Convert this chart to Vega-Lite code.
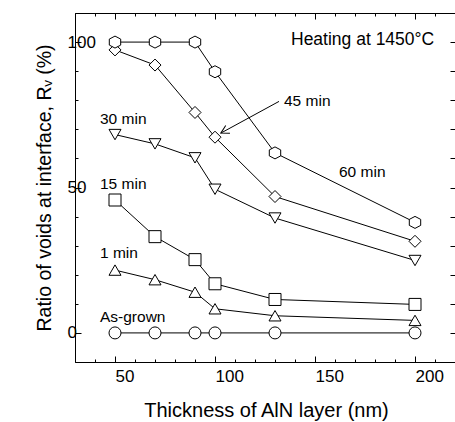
{
  "$schema": "https://vega.github.io/schema/vega-lite/v6.json",
  "width": 382,
  "height": 349,
  "autosize": "none",
  "padding": {"left": 75, "top": 13, "right": 0, "bottom": 60},
  "config": {"font": "Liberation Sans", "view": {"stroke": null}},
  "datasets": {
    "series": [
      {"series": "As-grown", "t": 50, "r": 0}, {"series": "As-grown", "t": 70, "r": 0}, {"series": "As-grown", "t": 90, "r": 0}, {"series": "As-grown", "t": 100, "r": 0}, {"series": "As-grown", "t": 130, "r": 0}, {"series": "As-grown", "t": 200, "r": 0},
      {"series": "1 min", "t": 50, "r": 21.6}, {"series": "1 min", "t": 70, "r": 18.3}, {"series": "1 min", "t": 90, "r": 14.0}, {"series": "1 min", "t": 100, "r": 8.3}, {"series": "1 min", "t": 130, "r": 5.9}, {"series": "1 min", "t": 200, "r": 4.3},
      {"series": "15 min", "t": 50, "r": 45.7}, {"series": "15 min", "t": 70, "r": 33.1}, {"series": "15 min", "t": 90, "r": 25.2}, {"series": "15 min", "t": 100, "r": 16.9}, {"series": "15 min", "t": 130, "r": 11.5}, {"series": "15 min", "t": 200, "r": 9.8},
      {"series": "30 min", "t": 50, "r": 68.2}, {"series": "30 min", "t": 70, "r": 65.0}, {"series": "30 min", "t": 90, "r": 60.2}, {"series": "30 min", "t": 100, "r": 49.4}, {"series": "30 min", "t": 130, "r": 39.5}, {"series": "30 min", "t": 200, "r": 24.9},
      {"series": "45 min", "t": 50, "r": 97.3}, {"series": "45 min", "t": 70, "r": 92.1}, {"series": "45 min", "t": 90, "r": 75.8}, {"series": "45 min", "t": 100, "r": 67.3}, {"series": "45 min", "t": 130, "r": 46.9}, {"series": "45 min", "t": 200, "r": 31.5},
      {"series": "60 min", "t": 50, "r": 100}, {"series": "60 min", "t": 70, "r": 100}, {"series": "60 min", "t": 90, "r": 100}, {"series": "60 min", "t": 100, "r": 89.8}, {"series": "60 min", "t": 130, "r": 61.9}, {"series": "60 min", "t": 200, "r": 38.0}
    ],
    "labels": [
      {"text": "As-grown", "t": 42.5, "r": 5.5},
      {"text": "1 min", "t": 42.5, "r": 27.4},
      {"text": "15 min", "t": 42.5, "r": 51.1},
      {"text": "30 min", "t": 42.5, "r": 73.4},
      {"text": "45 min", "t": 134.5, "r": 79.6},
      {"text": "60 min", "t": 162, "r": 55.4}
    ],
    "heading": [{"text": "Heating at 1450°C", "t": 138, "r": 100.8}],
    "arrow": [{"t": 132, "r": 79.6, "t2": 102.9, "r2": 68.7}]
  },
  "layer": [
    {
      "data": {"name": "series"},
      "mark": {"type": "line", "color": "black", "strokeWidth": 1},
      "encoding": {
        "x": {"field": "t", "type": "quantitative", "scale": {"domain": [30, 221], "nice": false, "zero": false},
          "axis": {"orient": "bottom", "values": [40,60,70,80,90,110,120,130,140,160,170,180,190,210],
            "grid": false, "domainColor": "black", "tickColor": "black", "tickSize": -3, "labels": false, "title": null}},
        "y": {"field": "r", "type": "quantitative", "scale": {"domain": [-10, 110], "nice": false, "zero": false},
          "axis": {"orient": "left", "values": [10,20,30,40,60,70,80,90],
            "grid": false, "domainColor": "black", "tickColor": "black", "tickSize": -3, "labels": false, "title": null}},
        "detail": {"field": "series", "type": "nominal"}
      }
    },
    {
      "data": {"name": "series"},
      "mark": {"type": "point", "filled": true, "fill": "white", "stroke": "black", "strokeWidth": 1, "opacity": 1, "size": 144},
      "encoding": {
        "x": {"field": "t", "type": "quantitative",
          "axis": {"orient": "top", "values": [40,60,70,80,90,110,120,130,140,160,170,180,190,210],
            "grid": false, "domainColor": "black", "tickColor": "black", "tickSize": -3, "labels": false, "title": null}},
        "y": {"field": "r", "type": "quantitative",
          "axis": {"orient": "right", "values": [10,20,30,40,60,70,80,90],
            "grid": false, "domainColor": "black", "tickColor": "black", "tickSize": -7, "labels": false, "title": null}},
        "shape": {"field": "series", "type": "nominal", "legend": null,
          "scale": {"domain": ["As-grown", "1 min", "15 min", "30 min", "45 min", "60 min"],
            "range": ["circle", "triangle-up", "square", "triangle-down", "diamond", "M0,-1L0.95,-0.5L0.95,0.5L0,1L-0.95,0.5L-0.95,-0.5Z"]}}
      }
    },
    {
      "data": {"name": "labels"},
      "mark": {"type": "text", "align": "left", "baseline": "middle", "fontSize": 15.5, "color": "black"},
      "encoding": {
        "x": {"field": "t", "type": "quantitative",
          "axis": {"orient": "bottom", "values": [50, 100, 150, 200],
            "grid": false, "domainColor": "black", "tickColor": "black", "tickSize": -6,
            "labelAlign": "left", "labelBaseline": "top", "labelPadding": 12, "labelFontSize": 17, "labelColor": "black",
            "labelFlush": false, "labelOverlap": false,
            "title": "Thickness of AlN layer (nm)", "titleFontSize": 20, "titleFontWeight": "normal", "titleColor": "black", "titlePadding": 16}},
        "y": {"field": "r", "type": "quantitative",
          "axis": {"orient": "left", "values": [0, 50, 100],
            "grid": false, "domainColor": "black", "tickColor": "black", "tickSize": -6,
            "labelAlign": "left", "labelBaseline": "middle", "labelPadding": 14, "labelFontSize": 17, "labelColor": "black",
            "labelFlush": false, "labelOverlap": false,
            "title": "Ratio of voids at interface, Rᵥ (%)", "titleFontSize": 19.5, "titleFontWeight": "normal", "titleColor": "black", "titlePadding": 13}},
        "text": {"field": "text"}
      }
    },
    {
      "data": {"name": "heading"},
      "mark": {"type": "text", "align": "left", "baseline": "middle", "fontSize": 17.5, "color": "black"},
      "encoding": {
        "x": {"field": "t", "type": "quantitative",
          "axis": {"orient": "top", "values": [50, 100, 150, 200],
            "grid": false, "domainColor": "black", "tickColor": "black", "tickSize": -6, "labels": false, "title": null}},
        "y": {"field": "r", "type": "quantitative",
          "axis": {"orient": "right", "values": [0, 50, 100],
            "grid": false, "domainColor": "black", "tickColor": "black", "tickSize": -7, "labels": false, "title": null}},
        "text": {"field": "text"}
      }
    },
    {
      "data": {"name": "arrow"},
      "mark": {"type": "rule", "color": "black", "strokeWidth": 1},
      "encoding": {
        "x": {"field": "t", "type": "quantitative", "axis": null},
        "y": {"field": "r", "type": "quantitative", "axis": null},
        "x2": {"field": "t2"},
        "y2": {"field": "r2"}
      }
    },
    {
      "data": {"name": "arrow"},
      "mark": {"type": "point", "shape": "M-1,-0.55L0,0L-1,0.55", "filled": false, "stroke": "black", "strokeWidth": 1, "opacity": 1, "size": 256, "angle": 151.5},
      "encoding": {
        "x": {"field": "t2", "type": "quantitative", "axis": null},
        "y": {"field": "r2", "type": "quantitative", "axis": null}
      }
    }
  ],
  "resolve": {"axis": {"x": "independent", "y": "independent"}}
}
